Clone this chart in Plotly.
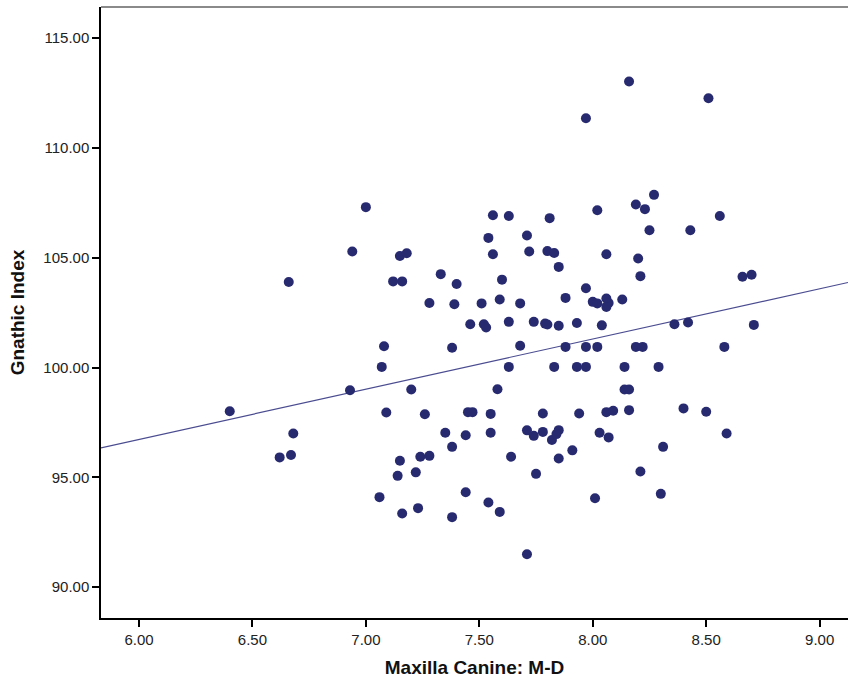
import numpy as np
import plotly.graph_objects as go

# Maxilla Canine: M-D (x) vs Gnathic Index (y)
canine_md = [
    6.40, 6.62, 6.67, 6.68, 6.66,
    7.00, 6.94, 7.15, 7.18, 7.12, 7.16, 7.33, 7.40, 7.28, 7.39, 7.51, 7.46, 7.08, 7.38, 7.07,
    7.56, 7.63, 7.81, 8.02, 7.54, 7.71, 7.56, 7.72, 7.80, 7.83, 8.06, 7.85, 7.60, 7.97, 7.59,
    7.68, 7.88, 8.00, 8.02, 8.06, 8.07, 8.06, 8.13, 7.52, 7.53, 7.63, 7.74, 7.79, 7.80, 7.85,
    7.93, 8.04, 7.68, 7.88, 7.97, 8.02, 7.63, 7.83, 7.93, 7.97, 8.14,
    8.27, 8.19, 8.23, 8.56, 8.25, 8.43, 8.20, 8.21, 8.66, 8.70, 8.36, 8.42, 8.71, 8.19, 8.22,
    8.58, 8.29,
    6.93, 7.20, 7.09, 7.26, 7.45, 7.47, 7.35, 7.44, 7.38, 7.15, 7.24, 7.28, 7.14, 7.22, 7.06,
    7.44, 7.16, 7.23, 7.38,
    7.58, 8.14, 8.16, 7.55, 7.78, 7.94, 8.06, 8.09, 8.16, 7.55, 7.71, 7.74, 7.78, 7.82, 7.85,
    7.84, 8.03, 8.07, 7.64, 7.85, 7.91, 7.75, 7.54, 7.59, 8.01, 7.71,
    8.40, 8.50, 8.59, 8.31, 8.21, 8.30,
    8.16, 8.51, 7.97,
]
gnathic_index = [
    98.01, 95.91, 96.02, 97.00, 103.89,
    107.30, 105.28, 105.08, 105.20, 103.92, 103.92, 104.25, 103.80, 102.94, 102.88, 102.92, 101.97, 100.97, 100.90, 100.03,
    106.93, 106.90, 106.80, 107.16, 105.90, 106.01, 105.16, 105.28, 105.30, 105.21, 105.16, 104.58, 104.00, 103.61, 103.10,
    102.92, 103.17, 102.99, 102.92, 103.14, 102.94, 102.76, 103.10, 101.97, 101.82, 102.08, 102.08, 102.00, 101.96, 101.90,
    102.03, 101.92, 100.99, 100.94, 100.94, 100.94, 100.03, 100.03, 100.03, 100.03, 100.03,
    107.86, 107.42, 107.21, 106.90, 106.25, 106.25, 104.96, 104.16, 104.13, 104.22, 101.97, 102.05, 101.94, 100.94, 100.94,
    100.94, 100.03,
    98.97, 99.00, 97.95, 97.87, 97.97, 97.97, 97.03, 96.92, 96.39, 95.76, 95.94, 95.98, 95.07, 95.23, 94.10,
    94.32, 93.36, 93.60, 93.19,
    99.01, 99.00, 99.00, 97.89, 97.91, 97.91, 97.97, 98.03, 98.06, 97.03, 97.14, 96.89, 97.07, 96.70, 97.15,
    96.97, 97.03, 96.82, 95.94, 95.86, 96.23, 95.16, 93.86, 93.43, 94.05, 91.50,
    98.14, 97.99, 97.00, 96.39, 95.27, 94.25,
    113.02, 112.26, 111.35,
]

x_ticks = [6.0, 6.5, 7.0, 7.5, 8.0, 8.5, 9.0]
y_ticks = [90.0, 95.0, 100.0, 105.0, 110.0, 115.0]
x_range = [5.8325, 9.125]
y_range = [88.60, 116.41]

navy = "#282a70"

# least-squares fit line across the whole axis
slope, intercept = np.polyfit(canine_md, gnathic_index, 1)
fit_x = np.array(x_range)
fit_y = slope * fit_x + intercept

fig = go.Figure()
fig.add_trace(go.Scatter(
    x=fit_x, y=fit_y, mode="lines",
    line=dict(color="#4a4c90", width=1.2),
    hoverinfo="skip", showlegend=False,
))
fig.add_trace(go.Scatter(
    x=canine_md, y=gnathic_index, mode="markers",
    marker=dict(color=navy, size=10, line=dict(width=0)),
    showlegend=False,
))

fig.add_shape(type="line", xref="paper", yref="paper", x0=0, x1=1, y0=1, y1=1,
              line=dict(color="#8a8a8a", width=2))

font_family = "Liberation Sans, Arial, sans-serif"
fig.update_layout(
    width=848, height=684,
    margin=dict(l=101, r=0, t=7, b=66),
    paper_bgcolor="white", plot_bgcolor="white",
    font=dict(family=font_family, color="#222222"),
    xaxis=dict(
        range=x_range, tickvals=x_ticks, ticktext=[f"{v:.2f}" for v in x_ticks],
        showgrid=False, zeroline=False, showline=True, linecolor="black", linewidth=1.5,
        ticks="outside", ticklen=7, tickcolor="black", tickwidth=1.5,
        tickfont=dict(size=15, color="#222222"),
        title=dict(text="<b>Maxilla Canine: M-D</b>", font=dict(size=19, color="#111111"), standoff=14),
    ),
    yaxis=dict(
        range=y_range, tickvals=y_ticks, ticktext=[f"{v:.2f}" for v in y_ticks],
        showgrid=False, zeroline=False, showline=True, linecolor="black", linewidth=1.5,
        ticks="outside", ticklen=7, tickcolor="black", tickwidth=1.5,
        tickfont=dict(size=15, color="#222222"),
        title=dict(text="<b>Gnathic Index</b>", font=dict(size=19, color="#111111"), standoff=14),
    ),
)

fig.write_html("out.html")
